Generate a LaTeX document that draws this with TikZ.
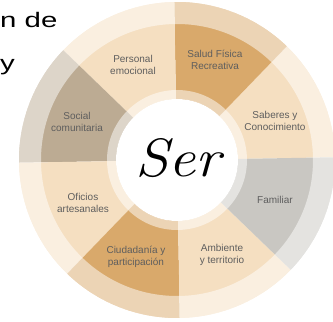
\documentclass[tikz,border=0pt]{standalone}
\usepackage{fontspec}
\newfontfamily\labelfont{Liberation Sans}
\definecolor{segtan}{HTML}{D9A96B}
\definecolor{segpeach}{HTML}{F5DFC1}
\definecolor{segtaupe}{HTML}{BCAB93}
\definecolor{seggrey}{HTML}{C9C7C2}
\definecolor{labelgray}{HTML}{5E5E5E}
\begin{document}
\begin{tikzpicture}[x=1pt,y=1pt,
  lbl/.style={font=\labelfont\fontsize{10}{12.5}\selectfont, text=labelgray, align=center, inner sep=0pt},
  bigtext/.style={font=\labelfont\fontsize{21}{25}\selectfont, text=black, inner sep=0pt, anchor=base west}]
\useasboundingbox (0,0) rectangle (333,322);
\clip (0,0) rectangle (333,322);
\coordinate (c) at (177,162);
\foreach \a/\col in {1/segpeach,46/segtan,91/segpeach,136/segtaupe,181/segpeach,226/segtan,271/segpeach,316/seggrey}{
  \fill[\col] (c) -- ++(\a:158) arc[start angle=\a, end angle=\a+45, radius=158] -- cycle;
}
\fill[white, opacity=0.5, even odd rule] (c) circle[radius=158] (c) circle[radius=136];
\fill[white, opacity=0.5, even odd rule] (c) circle[radius=70] (c) circle[radius=61];
\fill[white] (c) circle[radius=61];
\node[lbl] (personal) at (133,257) {Personal\\emocional};
\node[lbl] (salud) at (215,262) {Salud Física\\Recreativa};
\node[lbl] (saberes) at (275,201) {Saberes y\\Conocimiento};
\node[lbl] (familiar) at (275,122) {Familiar};
\node[lbl] (ambiente) at (222,67) {Ambiente\\y territorio};
\node[lbl] (ciudadania) at (136,65) {Ciudadanía y\\participación};
\node[lbl] (oficios) at (83,119) {Oficios\\artesanales};
\node[lbl] (social) at (77,200) {Social\\comunitaria};
\node[font=\rmfamily\itshape\fontsize{54}{60}\selectfont, inner sep=0pt, anchor=base] (ser) at (178,145) {\scalebox{1.12}[1]{Ser}};
\node[bigtext] (nde) at (0,294) {\scalebox{1.4}[1]{n de}};
\node[bigtext] (yy) at (0,251) {\scalebox{1.4}[1]{y}};
\end{tikzpicture}
\end{document}
